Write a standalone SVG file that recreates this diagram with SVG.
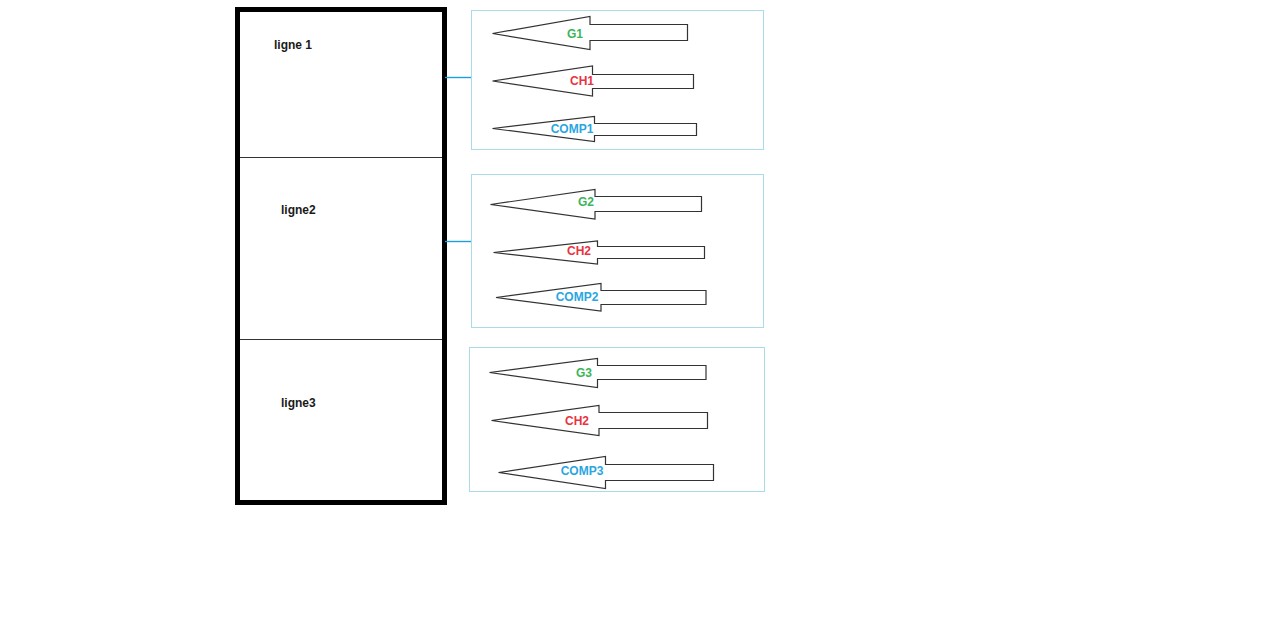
<svg xmlns="http://www.w3.org/2000/svg" width="1280" height="642" viewBox="0 0 1280 642">
<style>
  .lbl{font-family:"Liberation Sans",Arial,sans-serif;font-weight:bold;font-size:12px;fill:#1a1a1a}
  .t{font-family:"Liberation Sans",Arial,sans-serif;font-weight:bold;font-size:12px;text-anchor:middle}
  .g{fill:#3bb55a}.r{fill:#e8343f}.b{fill:#2aa6e0}
  .arrow{fill:#fff;stroke:#333;stroke-width:1.2}
  .grp{fill:none;stroke:#a9dbe8;stroke-width:1}
  .conn{stroke:#1e9fdc;stroke-width:1.4;fill:none}
</style>
<rect width="1280" height="642" fill="#fff"/>
<g id="table">
  <rect x="237.5" y="9.5" width="207" height="493" fill="#fff" stroke="#000" stroke-width="5"/>
  <line x1="240" y1="157.5" x2="442" y2="157.5" stroke="#333" stroke-width="1"/>
  <line x1="240" y1="339.5" x2="442" y2="339.5" stroke="#333" stroke-width="1"/>
  <text class="lbl" x="274" y="49">ligne 1</text>
  <text class="lbl" x="281" y="214">ligne2</text>
  <text class="lbl" x="281" y="407">ligne3</text>
</g>
<g id="connectors">
  <line class="conn" x1="445" y1="77.5" x2="471" y2="77.5"/>
  <line class="conn" x1="445" y1="241.5" x2="471" y2="241.5"/>
</g>
<g id="group1">
  <rect class="grp" x="471.5" y="10.5" width="292" height="139"/>
  <polygon class="arrow" points="492.5,33.5 590,16.5 590,24.5 687.5,24.5 687.5,40.5 590,40.5 590,49.5"/>
  <text class="t g" x="575" y="38">G1</text>
  <polygon class="arrow" points="492.5,81 592.5,66 592.5,74.5 693.5,74.5 693.5,88.5 592.5,88.5 592.5,96"/>
  <text class="t r" x="582" y="85">CH1</text>
  <polygon class="arrow" points="492.5,128.5 594.5,116.5 594.5,123.5 696.5,123.5 696.5,135.5 594.5,135.5 594.5,141.5"/>
  <text class="t b" x="572" y="133">COMP1</text>
</g>
<g id="group2">
  <rect class="grp" x="471.5" y="174.5" width="292" height="153"/>
  <polygon class="arrow" points="490.5,204.5 595,189.5 595,196.5 701.5,196.5 701.5,211.5 595,211.5 595,219"/>
  <text class="t g" x="586" y="206">G2</text>
  <polygon class="arrow" points="493.5,252.5 597.5,241 597.5,246.5 704.5,246.5 704.5,258.5 597.5,258.5 597.5,264"/>
  <text class="t r" x="579" y="255">CH2</text>
  <polygon class="arrow" points="496,297.5 601,283.5 601,290.5 706,290.5 706,304.5 601,304.5 601,311"/>
  <text class="t b" x="577" y="301">COMP2</text>
</g>
<g id="group3">
  <rect class="grp" x="469.5" y="347.5" width="295" height="144"/>
  <polygon class="arrow" points="489.5,372.5 597.5,358.5 597.5,365.5 706,365.5 706,379.5 597.5,379.5 597.5,387.5"/>
  <text class="t g" x="584" y="377">G3</text>
  <polygon class="arrow" points="491.5,420.5 599,405.5 599,412.5 707.5,412.5 707.5,428.5 599,428.5 599,435.5"/>
  <text class="t r" x="577" y="425">CH2</text>
  <polygon class="arrow" points="498.5,472.5 605.5,456.5 605.5,464.5 713.5,464.5 713.5,480.5 605.5,480.5 605.5,488.5"/>
  <text class="t b" x="582" y="475">COMP3</text>
</g>
</svg>
